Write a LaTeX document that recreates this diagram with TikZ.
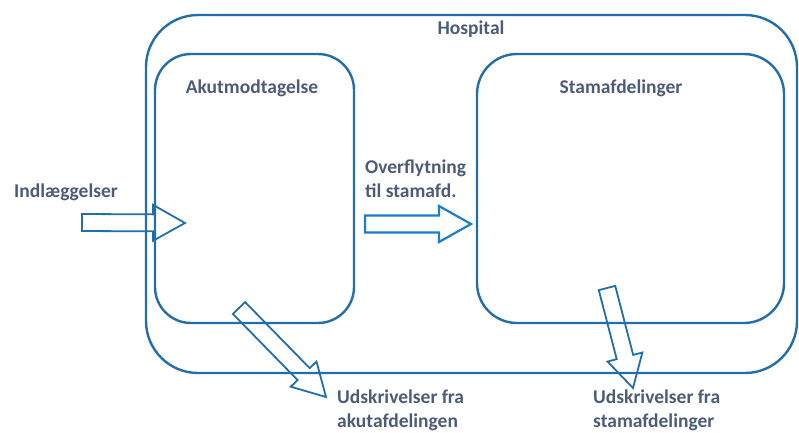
\documentclass[tikz,border=0pt]{standalone}
\usepackage{fontspec}
\setmainfont{Carlito}
\usetikzlibrary{positioning,calc}
\definecolor{boxblue}{RGB}{34,110,170}
\definecolor{flowblue}{RGB}{26,125,205}
\definecolor{txtgray}{RGB}{76,92,120}

\begin{document}
\begin{tikzpicture}[
  x=1pt, y=-1pt,
  font=\bfseries\fontsize{19.5}{24}\selectfont,
  box/.style={draw=boxblue, line width=2.4pt, inner sep=0pt},
  lbl/.style={text=txtgray, inner sep=0pt},
  barrow/.style={draw=boxblue, line width=1.8pt, line join=miter,
    to path={($(\tikztostart)!8.5pt!90:(\tikztotarget)$)
      -- ($(\tikztotarget)!32pt!(\tikztostart)!8.5pt!90:(\tikztotarget)$)
      -- ($(\tikztotarget)!32pt!(\tikztostart)!18pt!90:(\tikztotarget)$)
      -- (\tikztotarget)
      -- ($(\tikztotarget)!32pt!(\tikztostart)!18pt!-90:(\tikztotarget)$)
      -- ($(\tikztotarget)!32pt!(\tikztostart)!8.5pt!-90:(\tikztotarget)$)
      -- ($(\tikztostart)!8.5pt!-90:(\tikztotarget)$) -- cycle}}
]
\useasboundingbox (0,0) rectangle (799,432);

% boxes
\node[box, rounded corners=52pt, minimum width=651pt, minimum height=358pt] (hosp) at (471.5,194) {};
\node[box, rounded corners=36pt, minimum width=199pt, minimum height=269pt] (akut) at (254.5,188.5) {};
\node[box, rounded corners=40pt, minimum width=307pt, minimum height=269pt] (stam) at (630.5,188.5) {};

% labels
\node[lbl, anchor=base] (hosp-lbl) at (471,34.5) {Hospital};
\node[lbl, anchor=base] (akut-lbl) at (252,93.5) {Akutmodtagelse};
\node[lbl, anchor=base] (stam-lbl) at (621,93.5) {Stamafdelinger};
\node[lbl, anchor=base] (indl) at (66,197.5) {Indlæggelser};
\node[lbl, anchor=base west, align=left] (ovfl) at (365,197.5) {Overflytning\\til stamafd.};
\node[lbl, anchor=base west, align=left] (uds-akut) at (337,427) {Udskrivelser fra\\akutafdelingen};
\node[lbl, anchor=base west, align=left] (uds-stam) at (593,427) {Udskrivelser fra\\stamafdelinger};

% arrow ends
\coordinate (indl-a) at (82,222.5);
\coordinate (indl-b) at (185,223);
\coordinate (ovfl-a) at (365,224);
\coordinate (ovfl-b) at (471,224);
\coordinate (uds-akut-a) at (239,308);
\coordinate (uds-akut-b) at (326,397);
\coordinate (uds-stam-a) at (607,288);
\coordinate (uds-stam-b) at (633,388);

% block arrows
\draw[barrow] (indl-a) to (indl-b);
\draw[barrow, draw=flowblue, line width=2.2pt] (ovfl-a) to (ovfl-b);
\draw[barrow] (uds-akut-a) to (uds-akut-b);
\draw[barrow] (uds-stam-a) to (uds-stam-b);

\end{tikzpicture}
\end{document}
